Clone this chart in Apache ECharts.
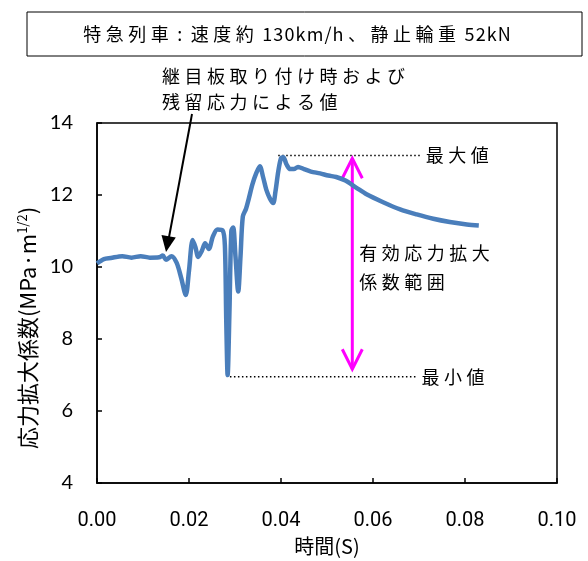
<!DOCTYPE html>
<html><head><meta charset="utf-8">
<script src="https://cdn.jsdelivr.net/npm/echarts@6/dist/echarts.min.js"></script>
<style>html,body{margin:0;padding:0;background:#fff}#c{width:588px;height:561px}</style>
</head><body><div id="c"></div>
<script>
// ---- data ----
const timeS = [0.0000,0.0015,0.0030,0.0055,0.0075,0.0095,0.0115,0.0135,0.0143,0.0150,0.0162,0.0173,0.0183,0.0193,0.0200,0.0208,0.0214,0.0220,0.0228,0.0235,0.0243,0.0252,0.0262,0.0273,0.0278,0.0281,0.0284,0.0288,0.0292,0.0296,0.0301,0.0307,0.0312,0.0317,0.0324,0.0330,0.0338,0.0346,0.0354,0.0361,0.0368,0.0376,0.0383,0.0388,0.0394,0.0400,0.0405,0.0412,0.0420,0.0428,0.0437,0.0450,0.0465,0.0485,0.0503,0.0520,0.0540,0.0564,0.0586,0.0622,0.0659,0.0695,0.0731,0.0767,0.0804,0.0830];
const kValues = [10.10,10.22,10.25,10.30,10.26,10.30,10.26,10.27,10.32,10.20,10.30,10.12,9.70,9.22,9.90,10.75,10.55,10.28,10.45,10.66,10.50,10.85,11.04,11.02,10.60,8.50,7.00,8.80,11.00,11.10,10.30,9.32,10.30,11.40,11.62,11.90,12.30,12.60,12.80,12.50,12.15,11.90,11.78,12.10,12.65,13.02,13.05,12.85,12.72,12.72,12.78,12.72,12.65,12.60,12.54,12.50,12.40,12.20,12.02,11.80,11.60,11.46,11.34,11.25,11.18,11.15];
const xTickValues = [0.00,0.02,0.04,0.06,0.08,0.10];
const yTickValues = [4,6,8,10,12,14];
const maxValue = 13.1, minValue = 6.95;
const titleText = '特急列車 : 速度約 130km/h、静止輪重 52kN';
const noteLines = ['継目板取り付け時および','残留応力による値'];
const rangeLines = ['有効応力拡大','係数範囲'];

const JP = '"Noto Sans CJK JP", "Noto Sans", sans-serif';
const isCJK = c => c.charCodeAt(0) >= 0x2E80;
const sp = s => {
  const ch = s.split('');
  return ch.map((c, i) => {
    if (c === ' ') return ' \u2005';
    if (i === 0) return c;
    const p = ch[i - 1];
    if (p === ' ') return c;
    return (isCJK(c) || isCJK(p) ? '\u2005' : '\u200A') + c;
  }).join('');
};

const chart = echarts.init(document.getElementById('c'), null, {renderer:'canvas'});
chart.setOption({
  animation: false,
  backgroundColor: '#fff',
  grid: {left: 97, top: 123, right: 31, bottom: 76, show: true, borderColor: '#000', borderWidth: 1.5, containLabel: false},
  xAxis: {
    type: 'value', min: xTickValues[0], max: xTickValues[xTickValues.length-1], interval: 0.02,
    name: '時間(S)', nameLocation: 'middle', nameGap: 53,
    nameTextStyle: {fontFamily: JP, fontSize: 20, color: '#000'},
    axisLine: {lineStyle: {color: '#000', width: 1.5}},
    axisTick: {inside: true, length: 5, lineStyle: {color: '#000', width: 1.5}},
    axisLabel: {margin: 28, fontFamily: 'Roboto', fontSize: 20, color: '#000', formatter: v => v.toFixed(2)},
    splitLine: {show: false}
  },
  yAxis: {
    type: 'value', min: yTickValues[0], max: yTickValues[yTickValues.length-1], interval: 2,
    name: '{a|応力拡大係数(MPa·m}{s|1/2}{a|)}', nameLocation: 'middle', nameGap: 58,
    nameTextStyle: {padding: [0, 50, 0, 0], rich: {
      a: {fontFamily: JP, fontSize: 22, color: '#000'},
      s: {fontFamily: JP, fontSize: 13, color: '#000', verticalAlign: 'top', padding: [0, 0, 10, 0]}
    }},
    axisLine: {lineStyle: {color: '#000', width: 1.5}},
    axisTick: {inside: true, length: 5, lineStyle: {color: '#000', width: 1.5}},
    axisLabel: {margin: 24, fontFamily: 'Lato', fontSize: 20, color: '#000'},
    splitLine: {show: false}
  },
  series: [{
    type: 'line', data: timeS.map((t, i) => [t, kValues[i]]),
    smooth: 0.3, showSymbol: false, symbol: 'none',
    lineStyle: {color: '#4A7EBB', width: 4.5}
  }]
});

const P = (t, v) => chart.convertToPixel({gridIndex: 0}, [t, v]);
const maxA = P(0.0394, maxValue), maxB = P(0.0706, maxValue);
const minA = P(0.0289, minValue), minB = P(0.0697, minValue);
const arT = P(0.0555, 13.02), arB = P(0.0555, 7.16);
const ax = arT[0];
const F = '18px ' + JP;
const g = [];
// title box
g.push({type: 'rect', shape: {x: 27, y: 12, width: 555, height: 44}, style: {fill: 'none', stroke: '#000', lineWidth: 1}});
g.push({type: 'text', x: 297, y: 34, style: {text: sp(titleText), font: F, fill: '#000', align: 'center', verticalAlign: 'middle'}});
// note text
g.push({type: 'text', x: 162, y: 76, style: {text: sp(noteLines[0]), font: F, fill: '#000', align: 'left', verticalAlign: 'middle'}});
g.push({type: 'text', x: 162, y: 102, style: {text: sp(noteLines[1]), font: F, fill: '#000', align: 'left', verticalAlign: 'middle'}});
// black arrow
g.push({type: 'line', shape: {x1: 192, y1: 114, x2: 168.5, y2: 240}, style: {stroke: '#000', lineWidth: 2}});
g.push({type: 'polygon', shape: {points: [[166, 252], [175.8, 237.6], [161.5, 235]]}, style: {fill: '#000'}});
// dotted lines
g.push({type: 'line', shape: {x1: maxA[0], y1: maxA[1], x2: maxB[0], y2: maxB[1]}, style: {stroke: '#000', lineWidth: 1.5, lineDash: [1.5, 2.5]}});
g.push({type: 'line', shape: {x1: minA[0], y1: minA[1], x2: minB[0], y2: minB[1]}, style: {stroke: '#000', lineWidth: 1.5, lineDash: [1.5, 2.5]}});
g.push({type: 'text', x: maxB[0] + 4, y: maxB[1], style: {text: sp('最大値'), font: F, fill: '#000', align: 'left', verticalAlign: 'middle'}});
g.push({type: 'text', x: minB[0] + 4, y: minB[1], style: {text: sp('最小値'), font: F, fill: '#000', align: 'left', verticalAlign: 'middle'}});
// magenta double arrow
const M = '#FF00FF';
g.push({type: 'line', shape: {x1: ax, y1: arT[1], x2: ax, y2: arB[1]}, style: {stroke: M, lineWidth: 3}});
g.push({type: 'polyline', shape: {points: [[ax - 10, arT[1] + 20], [ax, arT[1]], [ax + 10, arT[1] + 20]]}, style: {stroke: M, lineWidth: 3, fill: 'none'}});
g.push({type: 'polyline', shape: {points: [[ax - 10, arB[1] - 20], [ax, arB[1]], [ax + 10, arB[1] - 20]]}, style: {stroke: M, lineWidth: 3, fill: 'none'}});
g.push({type: 'text', x: ax + 7, y: 253, style: {text: sp(rangeLines[0]), font: F, fill: '#000', align: 'left', verticalAlign: 'middle'}});
g.push({type: 'text', x: ax + 7, y: 282, style: {text: sp(rangeLines[1]), font: F, fill: '#000', align: 'left', verticalAlign: 'middle'}});
chart.setOption({graphic: g});
</script></body></html>
